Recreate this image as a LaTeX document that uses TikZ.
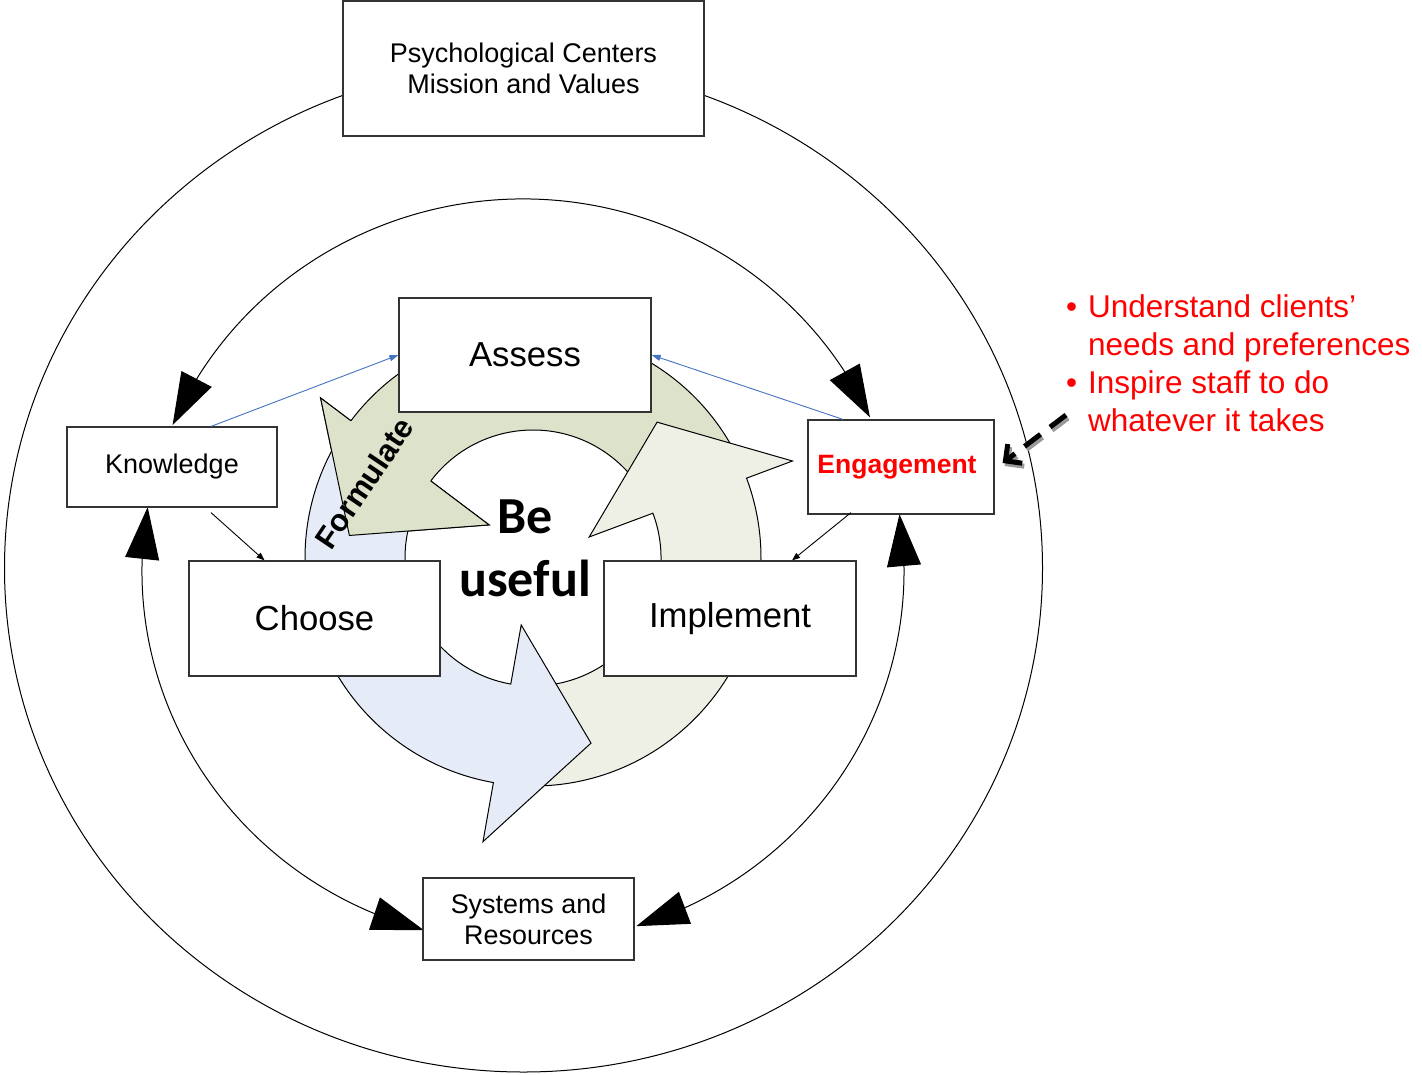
\documentclass[tikz,border=0pt]{standalone}
\usepackage{fontspec}
\setmainfont{Liberation Sans}
\newfontfamily\usefulfont{Carlito}
\usetikzlibrary{arrows.meta,bending,calc}
\definecolor{formgreen}{HTML}{DDE2CB}
\definecolor{chooseblue}{HTML}{E6ECF7}
\definecolor{implgray}{HTML}{EEF0E6}
\definecolor{linkblue}{HTML}{4472C4}

\begin{document}
\begin{tikzpicture}[x=1pt,y=-1pt,
    box/.style={draw=black!80,line width=1.2pt,fill=white,align=center,inner sep=0pt},
    bigtip/.style={line width=1pt,{Triangle[length=52pt,width=34pt,flex]}-{Triangle[length=52pt,width=34pt,flex]}},
    cyclearrow/.style={draw=black,line width=1pt,line join=miter}]
    \useasboundingbox (0,0) rectangle (1422,1074);
    \coordinate (ring) at (523,571);
    \coordinate (cyc) at (533,558);

    % Outer ring
    \draw[line width=1pt] (523.5,568) ellipse [x radius=519, y radius=504];

    % Inner ring
    \draw[bigtip] ($(ring)+(203.1:381 and 372)$) arc[start angle=203.1, end angle=335.6, x radius=381, y radius=372];
    \draw[bigtip] ($(ring)+(105.1:381 and 372)$) arc[start angle=105.1, end angle=189.9, x radius=381, y radius=372];
    \draw[bigtip] ($(ring)+(72.7:381 and 372)$) arc[start angle=72.7, end angle=-8.8, x radius=381, y radius=372];

    % Cycle arrows
    \filldraw[cyclearrow, fill=formgreen] ($(cyc)+(335:228)$) arc[start angle=335, end angle=217, radius=228]
        -- ($(cyc)+(217:266)$) -- ($(cyc)+(187:185)$) -- ($(cyc)+(217:55)$) -- ($(cyc)+(217:128)$)
        arc[start angle=217, end angle=335, radius=128] -- cycle;
    \filldraw[cyclearrow, fill=implgray] ($(cyc)+(95:228)$) arc[start angle=95, end angle=-20.5, radius=228]
        -- ($(cyc)+(-20.5:277)$) -- ($(cyc)+(-47.6:184)$) -- ($(cyc)+(-20.5:60)$) -- ($(cyc)+(-20.5:128)$)
        arc[start angle=-20.5, end angle=95, radius=128] -- cycle;
    \filldraw[cyclearrow, fill=chooseblue] ($(cyc)+(212:228)$) arc[start angle=212, end angle=100, radius=228]
        -- ($(cyc)+(100:288)$) -- ($(cyc)+(72.6:194)$) -- ($(cyc)+(100:68)$) -- ($(cyc)+(100:128)$)
        arc[start angle=100, end angle=212, radius=128] -- cycle;
    % Formulate head on top again
    \fill[formgreen] ($(cyc)+(217:266)$) -- ($(cyc)+(187:185)$) -- ($(cyc)+(217:55)$) -- cycle;
    \draw[cyclearrow] ($(cyc)+(217:228)$) -- ($(cyc)+(217:266)$) -- ($(cyc)+(187:185)$) -- ($(cyc)+(217:55)$) -- ($(cyc)+(217:128)$);
    \node[rotate=56, font=\fontsize{31}{31}\selectfont\bfseries] (formulate) at (364,483) {Formulate};

    % Boxes
    \node[box, minimum width=361pt, minimum height=135pt, font=\fontsize{27}{31}\selectfont] (mission) at (523.5,68.5) {Psychological Centers\\Mission and Values};
    \node[box, minimum width=252pt, minimum height=114pt, font=\fontsize{34.7}{38}\selectfont] (assess) at (525,355) {Assess};
    \node[box, minimum width=210pt, minimum height=80pt, font=\fontsize{27}{32}\selectfont] (knowledge) at (172,467) {Knowledge};
    \node[box, minimum width=186pt, minimum height=94pt, font=\fontsize{26.5}{30}\selectfont\bfseries, text=red] (engagement) at (901,467) {\raisebox{4pt}{Engagement}\hspace*{8pt}};
    \node[box, minimum width=251pt, minimum height=115pt, font=\fontsize{34.7}{38}\selectfont] (choose) at (314.5,618.5) {Choose};
    \node[box, minimum width=252pt, minimum height=115pt, font=\fontsize{34.7}{38}\selectfont] (implement) at (730,618.5) {Implement};
    \node[box, minimum width=211pt, minimum height=82pt, font=\fontsize{26.9}{31}\selectfont] (systems) at (528.5,919) {Systems and\\Resources};

    % Links
    \draw[linkblue, line width=0.9pt, -{Triangle[length=9pt,width=6pt]}] ($(knowledge.north)+(39,0)$) -- (assess.west);
    \draw[linkblue, line width=0.9pt, -{Triangle[length=9pt,width=6pt]}] ($(engagement.north)+(-58,0)$) -- (assess.east);
    \draw[line width=0.9pt, -{Triangle[length=8pt,width=6pt]}] ($(knowledge.south)+(39,5)$) -- ($(choose.north)+(-50,0)$);
    \draw[line width=0.9pt, -{Triangle[length=8pt,width=6pt]}] ($(engagement.south)+(-50,-2)$) -- ($(implement.north)+(62,0)$);

    \node[font=\usefulfont\fontsize{52}{63}\selectfont\bfseries, align=center] (useful) at (525,548) {Be\\useful};

    % Notes
    \node[anchor=west, align=left, text=red, font=\fontsize{31.5}{38}\selectfont, inner sep=0pt] (notes) at (1066,363)
        {\makebox[22pt][l]{\textbullet}Understand clients’\\\hspace*{22pt}needs and preferences\\\makebox[22pt][l]{\textbullet}Inspire staff to do\\\hspace*{22pt}whatever it takes};
    \coordinate (notetail) at (1066,415);
    \draw[black!40, line width=5pt, dash pattern=on 20pt off 12pt, -{Straight Barb[length=12pt,width=24pt]}] ($(notetail)+(2,3)$) -- ($(engagement.east)+(10,-1)$);
    \draw[line width=5pt, dash pattern=on 20pt off 12pt, -{Straight Barb[length=12pt,width=24pt]}] (notetail) -- ($(engagement.east)+(8,-4)$);
\end{tikzpicture}
\end{document}
